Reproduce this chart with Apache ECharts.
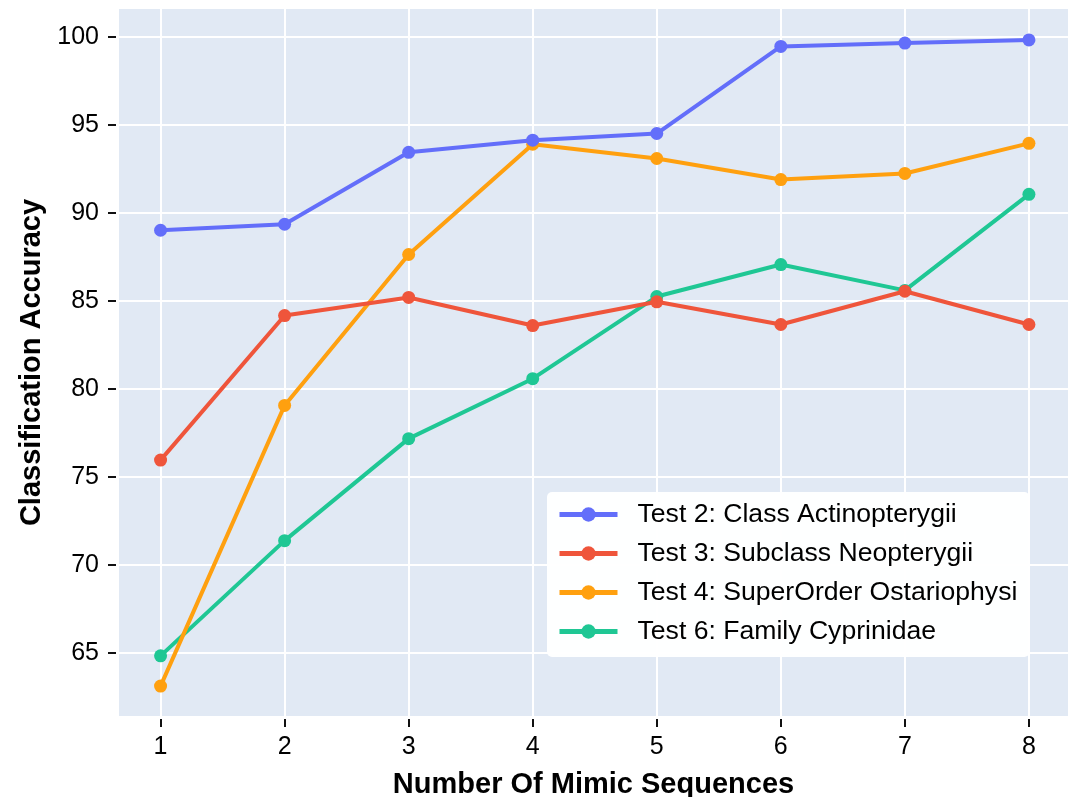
<!DOCTYPE html>
<html><head><meta charset="utf-8">
<script src="https://cdn.jsdelivr.net/npm/echarts@6/dist/echarts.min.js"></script>
<style>html,body{margin:0;padding:0;background:#fff}#c{width:1073px;height:797px}</style>
</head><body><div id="c"></div>
<script>
const xValues = [1, 2, 3, 4, 5, 6, 7, 8];
const yTicks = [65, 70, 75, 80, 85, 90, 95, 100];
const seriesNames = [
  'Test 2: Class Actinopterygii',
  'Test 3: Subclass Neopterygii',
  'Test 4: SuperOrder Ostariophysi',
  'Test 6: Family Cyprinidae'
];
const test2 = [89.02, 89.36, 93.45, 94.14, 94.52, 99.47, 99.66, 99.84];
const test3 = [75.95, 84.17, 85.2, 83.6, 84.95, 83.66, 85.55, 83.66];
const test4 = [63.1, 79.06, 87.64, 93.91, 93.1, 91.9, 92.25, 93.96];
const test6 = [64.82, 71.37, 77.17, 80.58, 85.25, 87.07, 85.6, 91.06];
const colors = ['#636EFA', '#EF553B', '#FFA00F', '#1FC794'];

const all = [test2, test3, test4, test6];
const font = 'Liberation Sans, Arial, Helvetica, sans-serif';
const chart = echarts.init(document.getElementById('c'), null, {renderer: 'canvas'});
chart.setOption({
  animation: false,
  backgroundColor: '#ffffff',
  grid: {left: 119, right: 5, top: 9, bottom: 81, show: true, backgroundColor: '#E1E9F4', borderWidth: 0,
         containLabel: false, outerBoundsMode: 'none'},
  xAxis: {
    type: 'value', min: 0.665, max: 8.315, offset: 3,
    name: 'Number Of Mimic Sequences', nameLocation: 'middle', nameGap: 51,
    nameTextStyle: {fontFamily: font, fontSize: 29, fontWeight: 'bold', color: '#000'},
    axisLine: {show: false},
    axisTick: {show: true, customValues: xValues, length: 8, lineStyle: {color: '#111', width: 2}},
    axisLabel: {customValues: xValues, fontFamily: font, fontSize: 25, color: '#000', margin: 16},
    splitLine: {show: true, lineStyle: {color: '#fff', width: 2}}
  },
  yAxis: {
    type: 'value', min: 61.4, max: 101.6, offset: 3,
    name: 'Classification Accuracy', nameLocation: 'middle', nameGap: 70, nameRotate: 90,
    nameTextStyle: {fontFamily: font, fontSize: 29, fontWeight: 'bold', color: '#000'},
    axisLine: {show: false},
    axisTick: {show: true, customValues: yTicks, length: 8, lineStyle: {color: '#111', width: 2}},
    axisLabel: {customValues: yTicks, fontFamily: font, fontSize: 25, color: '#000', margin: 17},
    splitLine: {show: true, lineStyle: {color: '#fff', width: 2}}
  },
  legend: {
    orient: 'vertical', left: 547, top: 492,
    backgroundColor: 'rgba(255,255,255,0.97)', borderRadius: 5,
    padding: [9, 12, 12, 10], itemGap: 12, itemWidth: 58, itemHeight: 18,
    lineStyle: {width: 5},
    textStyle: {fontFamily: font, fontSize: 26.6, color: '#000', padding: [0, 0, 0, 15]},
    data: seriesNames
  },
  series: all.map((d, i) => ({
    name: seriesNames[i], type: 'line',
    data: d.map((v, j) => [xValues[j], v]),
    symbol: 'circle', symbolSize: 13,
    lineStyle: {width: 4, color: colors[i]},
    itemStyle: {color: colors[i]},
    z: 10 - i
  }))
});
</script></body></html>
